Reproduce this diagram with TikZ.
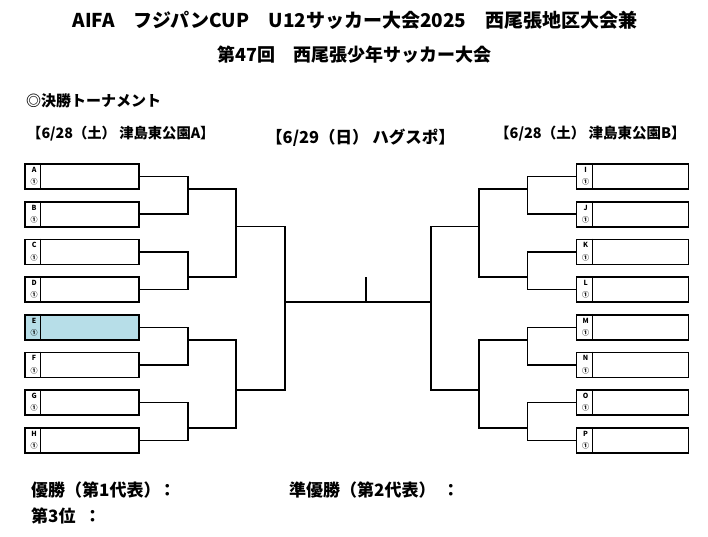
\documentclass[tikz,border=0pt]{standalone}
\usepackage{fontspec}
\setmainfont{Noto Sans CJK JP}
\usepackage{xcolor}
\usetikzlibrary{positioning}
\usetikzlibrary{calc}
\definecolor{boxblue}{HTML}{B7DEE8}

\begin{document}
\begin{tikzpicture}[x=1pt, y=-1pt, font=\bfseries,
    team/.style={draw, line width=1.8pt, minimum height=25pt, inner sep=0pt},
    tag/.style={font=\bfseries\fontsize{7}{7}\selectfont, inner sep=0pt},
    bracket/.style={line width=1.5pt},
    caption/.style={inner sep=0pt, anchor=west}]
\useasboundingbox (0,0) rectangle (708,537);

\node[inner sep=0pt] (title) at (355,20) {\fontsize{19}{22}\selectfont AIFA　フジパンCUP　U12サッカー大会2025　西尾張地区大会兼};
\node[inner sep=0pt] (subtitle) at (354.5,55) {\fontsize{18}{21}\selectfont 第47回　西尾張少年サッカー大会};
\node[caption] (section) at (26,100.5) {\fontsize{15}{17}\selectfont ◎決勝トーナメント};
\node[caption] (venueA) at (27,133.5) {\fontsize{14.3}{16}\selectfont 【6/28（土） 津島東公園A】};
\node[caption] (venueC) at (266,138) {\fontsize{16.5}{18}\selectfont 【6/29（日） ハグスポ】};
\node[caption] (venueB) at (495,133.5) {\fontsize{14.5}{16}\selectfont 【6/28（土） 津島東公園B】};

\foreach \n/\c [count=\i from 0] in {A/white,B/white,C/white,D/white,E/boxblue,F/white,G/white,H/white} {
  \node[team, fill=\c, minimum width=114pt] (\n) at (82,{176.5+37.7*\i}) {};
  \draw[line width=1.2pt] ([xshift=16.7pt]\n.north west) -- ([xshift=16.7pt]\n.south west);
  \node[tag] (\n-name) at ([xshift=10pt,yshift=-6.7pt]\n.north west) {\n};
  \node[tag] (\n-num) at ([xshift=10pt,yshift=-19pt]\n.north west) {①};
}
\foreach \n [count=\i from 0] in {I,J,K,L,M,N,O,P} {
  \node[team, minimum width=112pt] (\n) at (632.5,{176.5+37.7*\i}) {};
  \draw[line width=1.2pt] ([xshift=16.7pt]\n.north west) -- ([xshift=16.7pt]\n.south west);
  \node[tag] (\n-name) at ([xshift=10pt,yshift=-6.7pt]\n.north west) {\n};
  \node[tag] (\n-num) at ([xshift=10pt,yshift=-19pt]\n.north west) {①};
}

\coordinate (qAB) at (188,189);
\coordinate (qCD) at (188,277.1);
\coordinate (qEF) at (188,339.8);
\coordinate (qGH) at (188,427.9);
\coordinate (hAD) at (236,226.7);
\coordinate (hEH) at (236,390.2);
\coordinate (fL) at (285,302.1);
\coordinate (qIJ) at (527.7,189);
\coordinate (qKL) at (527.7,277.1);
\coordinate (qMN) at (527.7,339.8);
\coordinate (qOP) at (527.7,427.9);
\coordinate (hIL) at (479,226.7);
\coordinate (hMP) at (479,390.2);
\coordinate (fR) at (431,302.1);
\coordinate (win) at (366,277.1);

\foreach \a/\b/\q in {A/B/qAB,C/D/qCD,E/F/qEF,G/H/qGH}
  \draw[bracket] (\a.east) -| (\q) |- (\b.east);
\foreach \a/\b/\q in {I/J/qIJ,K/L/qKL,M/N/qMN,O/P/qOP}
  \draw[bracket] (\a.west) -| (\q) |- (\b.west);
\draw[bracket] (qAB) -| (hAD) |- (qCD);
\draw[bracket] (qEF) -| (hEH) |- (qGH);
\draw[bracket] (qIJ) -| (hIL) |- (qKL);
\draw[bracket] (qMN) -| (hMP) |- (qOP);
\draw[bracket] (hAD) -| (fL) |- (hEH);
\draw[bracket] (hIL) -| (fR) |- (hMP);
\draw[bracket] (fL) -- (fR);
\draw[bracket] (win) -- (win |- fL);

\node[caption] (first) at (31,489.7) {\fontsize{17}{19}\selectfont 優勝（第1代表）\hspace{-0.1em}：};
\node[caption] (second) at (289,489.7) {\fontsize{17}{19}\selectfont 準優勝（第2代表）\hspace{0.4em}：};
\node[caption] (third) at (31,516.3) {\fontsize{17}{19}\selectfont 第3位\hspace{0.5em}：};
\end{tikzpicture}
\end{document}
